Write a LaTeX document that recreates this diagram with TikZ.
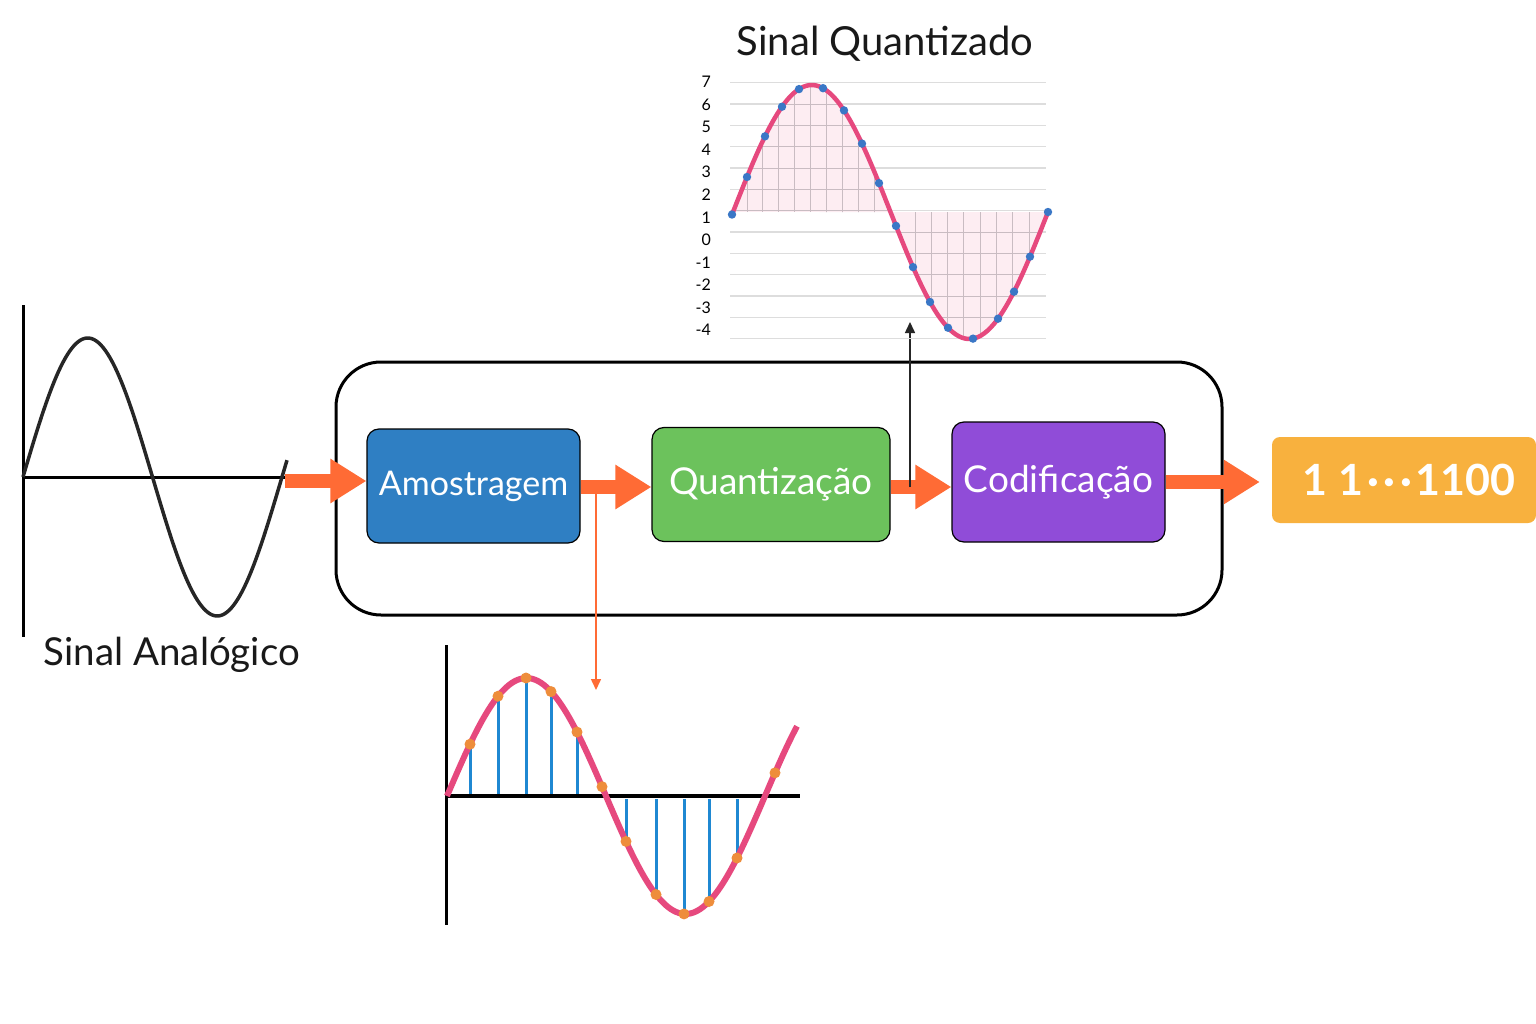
\documentclass[tikz,border=0pt]{standalone}
\usepackage{fontspec}
\setmainfont{Lato}
\usetikzlibrary{arrows.meta,positioning}

\definecolor{blockblue}{HTML}{2F7FC3}
\definecolor{blockgreen}{HTML}{6CC25C}
\definecolor{blockpurple}{HTML}{904CD8}
\definecolor{outorange}{HTML}{F8B13E}
\definecolor{arrorange}{HTML}{FF6B35}
\definecolor{wavepink}{HTML}{E6497E}
\definecolor{dotblue}{HTML}{3A77C6}
\definecolor{dotorange}{HTML}{EE8D3B}
\definecolor{stemblue}{HTML}{1F88D2}
\definecolor{gridgray}{HTML}{DDDDDD}
\definecolor{fillpink}{HTML}{FDEDF2}
\definecolor{cellgray}{HTML}{C9BCC2}

\tikzset{
  block/.style={draw=black, line width=1.2pt, rounded corners=12pt, text=white,
    font=\fontsize{37}{44}\selectfont, minimum height=114pt},
  fatarrow/.style={arrorange, line width=14pt, -{Triangle[length=36pt,width=42pt]}},
  thinarrow/.style={line width=1.5pt, -{Triangle[length=11pt,width=10pt]}},
  title/.style={font=\fontsize{40}{48}\selectfont, text=black!90},
}

\begin{document}
\begin{tikzpicture}[x=1pt,y=-1pt]
\useasboundingbox (0,0) rectangle (1536,1024);
\fill[white] (0,0) rectangle (1536,1024);

% analog input
\draw[line width=3pt] (23,305) -- (23,637);
\draw[line width=3pt] (23,477) -- (285,477);
\draw[line width=3.5pt, black!85, domain=23:287, samples=120, smooth]
  plot (\x, {477-139*sin((\x-23)*1.38996)});
\coordinate (analogend) at (285,481);
\node[title, font=\fontsize{38.5}{46}\selectfont] (analoglabel) at (172,655) {Sinal Analógico};

% the chain
\node[draw, line width=3pt, rounded corners=45pt, minimum width=886pt,
  minimum height=253pt] (frame) at (779,488.5) {};
\node[block, fill=blockblue, minimum width=213pt, font=\fontsize{34}{40}\selectfont] (amostra) at (473.5,486) {Amostragem};
\node[block, fill=blockgreen, minimum width=238pt] (quant) at (771,484.5) {Quantização};
\node[block, fill=blockpurple, minimum width=213pt, minimum height=120pt] (codif) at (1058.5,482) {Codificação};
\node[fill=outorange, rounded corners=8pt, minimum width=264pt, minimum height=86pt,
  text=white, font=\fontsize{43}{51}\selectfont\bfseries] (saida) at (1404,480)
  {\hspace*{10pt}1 1\hspace{4pt}·\hspace{5pt}·\hspace{5pt}·\hspace{3pt}1100};

\draw[fatarrow] (analogend) -- (analogend -| amostra.west);
\draw[fatarrow] (amostra.east |- 0,487) -- (quant.west |- 0,487);
\draw[fatarrow] (quant.east |- 0,487) -- (codif.west |- 0,487);
\draw[fatarrow, shorten >=12pt] (codif.east) -- (codif.east -| saida.west);

\coordinate (tapA) at (596,487);
\coordinate (sampletop) at (596,690);
\coordinate (tapQ) at (910,487);
\coordinate (quanttop) at (910,322);
\draw[thinarrow, arrorange] (tapA) -- (sampletop);
\draw[thinarrow, black!85] (tapQ) -- (quanttop);

% quantized signal
\node[title] (quanttitle) at (885,44) {Sinal Quantizado};
\foreach \k in {0,...,12}
  \draw[gridgray, line width=1.5pt] (730,82.7+21.33*\k) -- (1046,82.7+21.33*\k);
\foreach \v [count=\k from 0] in {7,6,...,-4}
  \node[anchor=east, font=\fontsize{16}{18}\selectfont, inner sep=0pt] (lev\k) at (711,82+22.55*\k) {\v};
\begin{scope}
  \clip (733,212) plot[domain=733:1048, samples=100, smooth] (\x, {212-127*sin((\x-733)*1.142857)}) -- cycle;
  \fill[fillpink] (730,60) rectangle (1050,345);
  \foreach \k in {0,...,8}
    \draw[cellgray, line width=1pt] (747+15.9*\k,60) -- (747+15.9*\k,345);
  \foreach \k in {0,...,7}
    \draw[cellgray, line width=1pt] (915+16.3*\k,60) -- (915+16.3*\k,345);
  \foreach \k in {0,...,12}
    \draw[cellgray, line width=1pt] (730,82.7+21.33*\k) -- (1046,82.7+21.33*\k);
\end{scope}
\draw[wavepink, line width=4.5pt, domain=733:1048, samples=100, smooth]
  plot (\x, {212-127*sin((\x-733)*1.142857)});
\foreach \px in {732,747,765,782,799,823,844,862,879,896,913,930,948,973,998,1014,1030,1048}
  \fill[dotblue] (\px,{212-127*sin((\px-733)*1.142857)}) circle (4.2pt);

% sampled signal
\draw[line width=3pt] (446,645) -- (446,925);
\foreach \px in {470,498,526,551,577}
  \draw[stemblue, line width=3pt] (\px,796) -- (\px,{796-118*sin((\px-447)*1.132075)});
\foreach \px in {626,656,684,709,737}
  \draw[stemblue, line width=3pt] (\px,799) -- (\px,{796-118*sin((\px-447)*1.132075)});
\draw[line width=3.5pt] (446,796) -- (800,796);
\draw[wavepink, line width=6pt, domain=447:797, samples=120, smooth]
  plot (\x, {796-118*sin((\x-447)*1.132075)});
\foreach \px in {470,498,526,551,577,602,626,656,684,709,737,775}
  \fill[dotorange] (\px,{796-118*sin((\px-447)*1.132075)}) circle (5.5pt);

\end{tikzpicture}
\end{document}
